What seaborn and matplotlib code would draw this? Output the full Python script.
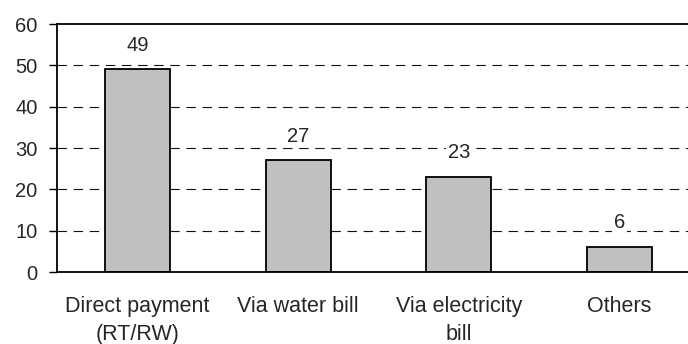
import matplotlib
matplotlib.use("Agg")
import matplotlib.pyplot as plt
import seaborn as sns
import pandas as pd

categories = ["Direct payment\n(RT/RW)", "Via water bill", "Via electricity\nbill", "Others"]
values = [49, 27, 23, 6]
yticks = [0, 10, 20, 30, 40, 50, 60]

sns.set_style("white")
plt.rcParams['font.family'] = ['Liberation Sans', 'DejaVu Sans']

df = pd.DataFrame({"cat": categories, "val": values})

fig = plt.figure(figsize=(6.88, 3.44), dpi=100)
W, H = 688, 344
left, right, top, bottom = 57, 700, 24, 272
ax = fig.add_axes([left / W, 1 - bottom / H, (right - left) / W, (bottom - top) / H])

sns.barplot(data=df, x="cat", y="val", ax=ax, color="#c0c0c0", width=0.405,
            edgecolor="black", linewidth=1.3, saturation=1)

ax.set_ylim(0, 60)
ax.set_xlim(-0.5, len(categories) - 0.5)
ax.set_yticks(yticks)
ax.set_yticklabels([str(t) for t in yticks], fontsize=14.5)
for t in [10, 20, 30, 40, 50]:
    ax.plot([-0.5, len(categories) - 0.5], [t, t], color="#111111", lw=0.8,
            linestyle=(0, (8.5, 6.0)), zorder=0.5)

ax.set_xticks(range(len(categories)))
ax.set_xticklabels(categories, fontsize=15.5, linespacing=1.45)
ax.tick_params(axis="x", which="major", length=0, pad=17)
ax.set_xticks([0.5, 1.5, 2.5], minor=True)
ax.tick_params(axis="x", which="minor", length=5, width=1, color="black", direction="out")
ax.tick_params(axis="y", length=6, width=1, color="black", direction="out", pad=8, left=True)
ax.set_xlabel("")
ax.set_ylabel("")

for s in ax.spines.values():
    s.set_color("black")
    s.set_linewidth(1.3)

for i, v in enumerate(values):
    ax.annotate(str(v), (i, v), xytext=(0, 17.5), textcoords="offset points",
                ha="center", va="center", fontsize=14.5,
                bbox=dict(facecolor="white", edgecolor="none", pad=1.5))

fig.savefig("out.png", dpi=100)
